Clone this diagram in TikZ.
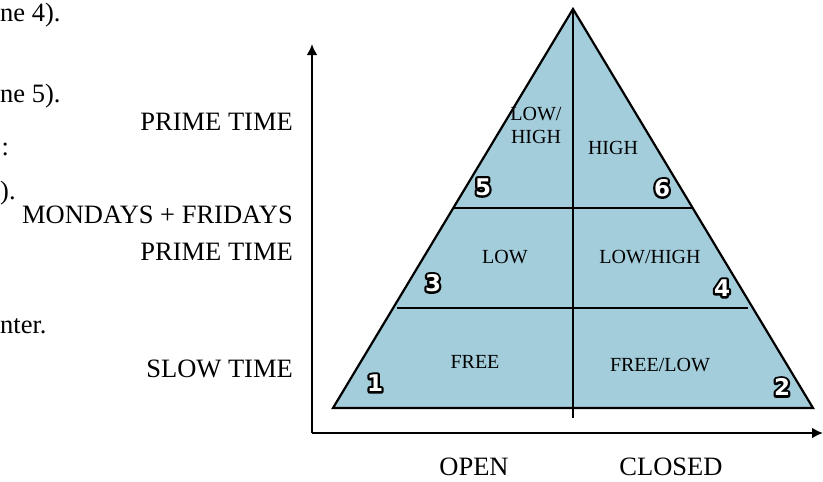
\documentclass[tikz,border=0pt]{standalone}
\usepackage{fontspec}
\setmainfont{Liberation Serif}
\newfontfamily\badgefont{DejaVu Sans}
\usetikzlibrary{arrows.meta,positioning}

\tikzset{
  axisline/.style={line width=2.8pt,-{Latex[length=11pt,width=11pt]}},
  rule/.style={line width=2.2pt},
  outer/.style={font=\fontsize{26.5}{28}\selectfont,inner sep=0pt},
  inner/.style={font=\fontsize{20}{23}\selectfont,inner sep=0pt,align=center},
  badge/.style={font=\badgefont\bfseries\fontsize{23}{23}\selectfont,text=white,inner sep=0pt}
}
% white digit with a black rim
\newcommand{\rimdigit}[1]{%
  \rlap{\special{pdf:literal direct 1 Tr 4.5 w 1 j 0 0 0 RG}#1\special{pdf:literal direct 0 Tr}}#1}

\begin{document}
\begin{tikzpicture}[x=1pt,y=-1pt]
%
\useasboundingbox (0,0) rectangle (823,482);
%
\definecolor{cfill}{HTML}{A3CDDB}
%
\coordinate (apex) at (573,9);
\coordinate (bl) at (333,408);
\coordinate (br) at (813,408);
\coordinate (mbot) at (573,418);
\coordinate (l1) at (397,308);
\coordinate (r1) at (748,308);
\coordinate (l2) at (454,208);
\coordinate (r2) at (693,208);
\coordinate (orig) at (312,433);
\coordinate (ytip) at (312,44);
\coordinate (xtip) at (823,433);
%
\fill[cfill] (apex) -- (br) -- (bl) -- cycle;
\draw[rule,line join=miter] (apex) -- (br) -- (bl) -- cycle;
\draw[rule] (apex) -- (mbot);
\draw[rule] (l1) -- (r1);
\draw[rule] (l2) -- (r2);
%
\draw[axisline] (orig) -- (ytip);
\draw[axisline] (orig) -- (xtip);
%
\node[inner,anchor=base] (lowhigh) at (536,143) {LOW/\\HIGH};
\node[inner,anchor=base] (high) at (613,154) {HIGH};
\node[inner,anchor=base] (low) at (505,263) {LOW};
\node[inner,anchor=base] (lowhigh2) at (650,263) {LOW/HIGH};
\node[inner,anchor=base] (free) at (475,368) {FREE};
\node[inner,anchor=base] (freelow) at (660,371) {FREE/LOW};
%
\node[badge] (n1) at (375,383) {\rimdigit{1}};
\node[badge] (n2) at (782,387) {\rimdigit{2}};
\node[badge] (n3) at (433,283) {\rimdigit{3}};
\node[badge] (n4) at (722,288) {\rimdigit{4}};
\node[badge] (n5) at (483,187) {\rimdigit{5}};
\node[badge] (n6) at (662,188) {\rimdigit{6}};
%
\node[outer,anchor=base east] (prime1) at (293,130) {PRIME TIME};
\node[outer,anchor=base east] (monfri) at (293,223) {MONDAYS + FRIDAYS};
\node[outer,anchor=base east] (prime2) at (293,260) {PRIME TIME};
\node[outer,anchor=base east] (slow) at (293,377) {SLOW TIME};
\node[outer,anchor=base] (open) at (474,475) {OPEN};
\node[outer,anchor=base] (closed) at (671,475) {CLOSED};
%
\node[outer,anchor=base west] (frag1) at (0,21) {ne 4).};
\node[outer,anchor=base west] (frag2) at (0,102) {ne 5).};
\node[outer,anchor=base west] (frag3) at (1.5,155) {:};
\node[outer,anchor=base west] (frag4) at (0,199) {).};
\node[outer,anchor=base west] (frag5) at (0,333) {nter.};
%
\end{tikzpicture}
\end{document}
